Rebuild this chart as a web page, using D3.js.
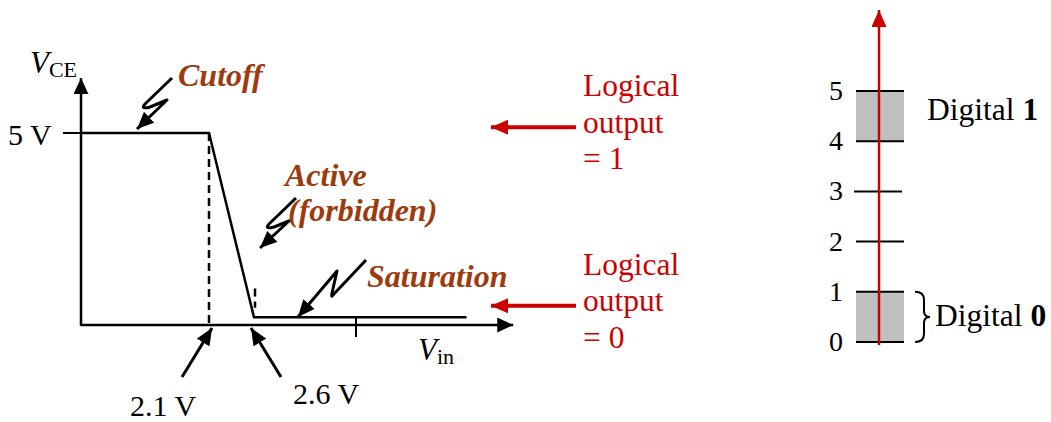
<!DOCTYPE html>
<html>
<head>
<meta charset="utf-8">
<script src="https://cdn.jsdelivr.net/npm/d3@7"></script>
<style>
  body { margin: 0; background: #fff; }
  text { font-family: "Liberation Serif", "Times New Roman", serif; }
</style>
</head>
<body>
<script>
// transfer characteristic: Vin (V) -> VCE (V)
var vinPoints = [0, 2.1, 2.6, 7.6];
var vcePoints = [5, 5, 0.2, 0.2];
var vinMarks = [2.1, 2.6];
var vinMarkLabels = ["2.1 V", "2.6 V"];
var vinTick = 5;
var vceMax = 5;
var vceTickLabel = "5 V";
var regionLabels = ["Cutoff", "Active", "(forbidden)", "Saturation"];
var outputLabels = [["Logical", "output", "= 1"], ["Logical", "output", "= 0"]];
var outputLevels = [5.15, 0.5];

// right side logic level axis
var levels = [0, 1, 2, 3, 4, 5];
var bands = [[0, 1], [4, 5]];
var bandLabels = ["1", "0"];

var brown = "#9c3b0e", red = "#cc0000";

var svg = d3.select("body").append("svg")
    .attr("width", 1051)
    .attr("height", 422);

var defs = svg.append("defs");
function marker(id, color, len, wid) {
    defs.append("marker")
        .attr("id", id)
        .attr("markerUnits", "userSpaceOnUse")
        .attr("viewBox", "0 0 " + len + " " + wid)
        .attr("refX", len).attr("refY", wid / 2)
        .attr("markerWidth", len).attr("markerHeight", wid)
        .attr("orient", "auto")
        .append("path")
        .attr("d", "M0,0L" + len + "," + (wid / 2) + "L0," + wid + "Z")
        .attr("fill", color);
}
marker("axArrow", "#000", 16, 15);
marker("blkArrow", "#000", 17, 15);
marker("redArrow", red, 17, 15);

// scales (the sketch is not to scale, so x is piecewise)
var x = d3.scaleLinear().domain([0, 2.1, 2.6, 5]).range([81, 209, 254, 356]);
var y = d3.scaleLinear().domain([0, 5]).range([325, 133]);
var yR = d3.scaleLinear().domain([0, 5]).range([342, 91]);

var g = svg.append("g");

// axes
g.append("line")
    .attr("x1", x(0)).attr("y1", y(0))
    .attr("x2", x(8.7)).attr("y2", y(0))
    .attr("stroke", "#000").attr("stroke-width", 2.5)
    .attr("marker-end", "url(#axArrow)");
g.append("line")
    .attr("x1", x(0)).attr("y1", y(0) + 1)
    .attr("x2", x(0)).attr("y2", y(6.43))
    .attr("stroke", "#000").attr("stroke-width", 2.5)
    .attr("marker-end", "url(#axArrow)");

// 5 V tick and Vin tick
g.append("line")
    .attr("x1", x(0) - 18).attr("x2", x(0) + 7)
    .attr("y1", y(vceMax)).attr("y2", y(vceMax))
    .attr("stroke", "#000").attr("stroke-width", 2);
g.append("line")
    .attr("x1", x(vinTick)).attr("x2", x(vinTick))
    .attr("y1", y(0) - 9).attr("y2", y(0) + 12)
    .attr("stroke", "#000").attr("stroke-width", 2);

g.append("text")
    .attr("x", 8).attr("y", y(vceMax) + 12)
    .attr("font-size", 30)
    .text(vceTickLabel);

var vce = g.append("text").attr("x", 30).attr("y", 73).attr("font-size", 31);
vce.append("tspan").attr("font-style", "italic").text("V");
vce.append("tspan").attr("font-size", 22).attr("dy", 4).text("CE");

var vin = g.append("text").attr("x", 418).attr("y", 360).attr("font-size", 31);
vin.append("tspan").attr("font-style", "italic").text("V");
vin.append("tspan").attr("font-size", 22).attr("dy", 4).text("in");

// transfer curve
var curve = vinPoints.map(function (d, i) { return [x(d), y(vcePoints[i])]; });
g.append("path")
    .attr("d", d3.line()(curve))
    .attr("fill", "none")
    .attr("stroke", "#000")
    .attr("stroke-width", 2.5);

// dashed guides
g.append("line")
    .attr("x1", x(2.1)).attr("x2", x(2.1))
    .attr("y1", y(5)).attr("y2", y(0))
    .attr("stroke", "#000").attr("stroke-width", 2.5)
    .attr("stroke-dasharray", "8,5");
g.append("line")
    .attr("x1", x(2.6) + 1).attr("x2", x(2.6) + 1)
    .attr("y1", y(0.95)).attr("y2", y(0.45))
    .attr("stroke", "#000").attr("stroke-width", 2.5)
    .attr("stroke-dasharray", "8,5");

// arrows pointing at 2.1 V and 2.6 V
var markLabelPos = [[130, 416], [293, 404]];
vinMarks.forEach(function (v, i) {
    var dir = i === 0 ? -1 : 1;
    g.append("line")
        .attr("x1", x(v) + dir * 27).attr("y1", 377)
        .attr("x2", x(v) - dir * 3).attr("y2", y(0) + 3)
        .attr("stroke", "#000").attr("stroke-width", 3)
        .attr("marker-end", "url(#blkArrow)");
    g.append("text")
        .attr("x", markLabelPos[i][0]).attr("y", markLabelPos[i][1])
        .attr("font-size", 30)
        .text(vinMarkLabels[i]);
});

// region labels
var reg = g.append("g")
    .attr("fill", brown)
    .attr("font-weight", "bold")
    .attr("font-style", "italic")
    .attr("font-size", 32);
reg.append("text").attr("x", 178).attr("y", 86).text(regionLabels[0]);
reg.append("text").attr("x", 285).attr("y", 186).text(regionLabels[1]);
reg.append("text").attr("x", 288).attr("y", 221).text(regionLabels[2]);
reg.append("text").attr("x", 367).attr("y", 287).text(regionLabels[3]);

// lightning-style pointers
var squiggles = [
    "M172,78L146,103Q139,110 150,107L167,100L137,129",
    "M296,198L270,223Q263,230 274,227L289,221L260,248",
    "M366,260L333,295Q331,298 332,293L337,271L298,317"
];
squiggles.forEach(function (d) {
    g.append("path")
        .attr("d", d)
        .attr("fill", "none")
        .attr("stroke", "#000")
        .attr("stroke-width", 3)
        .attr("stroke-linejoin", "round")
        .attr("marker-end", "url(#blkArrow)");
});

// logical output arrows + labels
outputLevels.forEach(function (lv, i) {
    var yy = y(lv);
    g.append("line")
        .attr("x1", 576).attr("x2", 491)
        .attr("y1", yy).attr("y2", yy)
        .attr("stroke", red).attr("stroke-width", 4)
        .attr("marker-end", "url(#redArrow)");
    var t = g.append("text")
        .attr("fill", red)
        .attr("font-size", 31.5);
    outputLabels[i].forEach(function (s, k) {
        t.append("tspan")
            .attr("x", 583)
            .attr("y", yy - 31 + k * 36.5)
            .text(s);
    });
});

// right: logic level axis
var r = svg.append("g");
var axX = 879;

bands.forEach(function (b) {
    r.append("rect")
        .attr("x", axX - 23).attr("width", 48)
        .attr("y", yR(b[1])).attr("height", yR(b[0]) - yR(b[1]))
        .attr("fill", "#c0c0c0");
});

r.selectAll(".lvl")
    .data(levels)
    .enter().append("line")
    .attr("class", "lvl")
    .attr("x1", function (d) { return d === 3 ? axX - 25 : axX - 23; })
    .attr("x2", function (d) { return d === 3 ? axX + 23 : axX + 25; })
    .attr("y1", function (d) { return yR(d); })
    .attr("y2", function (d) { return yR(d); })
    .attr("stroke", "#000").attr("stroke-width", 2);

r.selectAll(".lvlLab")
    .data(levels)
    .enter().append("text")
    .attr("class", "lvlLab")
    .attr("x", 836)
    .attr("y", function (d) { return yR(d) + 9; })
    .attr("text-anchor", "middle")
    .attr("font-size", 28)
    .text(function (d) { return d; });

r.append("line")
    .attr("x1", axX).attr("x2", axX)
    .attr("y1", yR(0) + 3).attr("y2", 10)
    .attr("stroke", red).attr("stroke-width", 2.5)
    .attr("marker-end", "url(#redArrow)");

// Digital 1 label
var d1 = r.append("text").attr("x", 927).attr("y", 120).attr("font-size", 31.5);
d1.append("tspan").text("Digital ");
d1.append("tspan").attr("font-weight", "bold").text(bandLabels[0]);

// brace for Digital 0
var b0 = yR(1), b1 = yR(0), bx = 915, bw = 9, bm = (b0 + b1) / 2;
r.append("path")
    .attr("d",
        "M" + bx + "," + b0 +
        "Q" + (bx + bw) + "," + b0 + " " + (bx + bw) + "," + (b0 + 8) +
        "L" + (bx + bw) + "," + (bm - 6) +
        "Q" + (bx + bw) + "," + bm + " " + (bx + bw + 6) + "," + bm +
        "Q" + (bx + bw) + "," + bm + " " + (bx + bw) + "," + (bm + 6) +
        "L" + (bx + bw) + "," + (b1 - 8) +
        "Q" + (bx + bw) + "," + b1 + " " + bx + "," + b1)
    .attr("fill", "none")
    .attr("stroke", "#000")
    .attr("stroke-width", 2);

var d0 = r.append("text").attr("x", 935).attr("y", 326).attr("font-size", 31.5);
d0.append("tspan").text("Digital ");
d0.append("tspan").attr("font-weight", "bold").text(bandLabels[1]);
</script>
</body>
</html>
